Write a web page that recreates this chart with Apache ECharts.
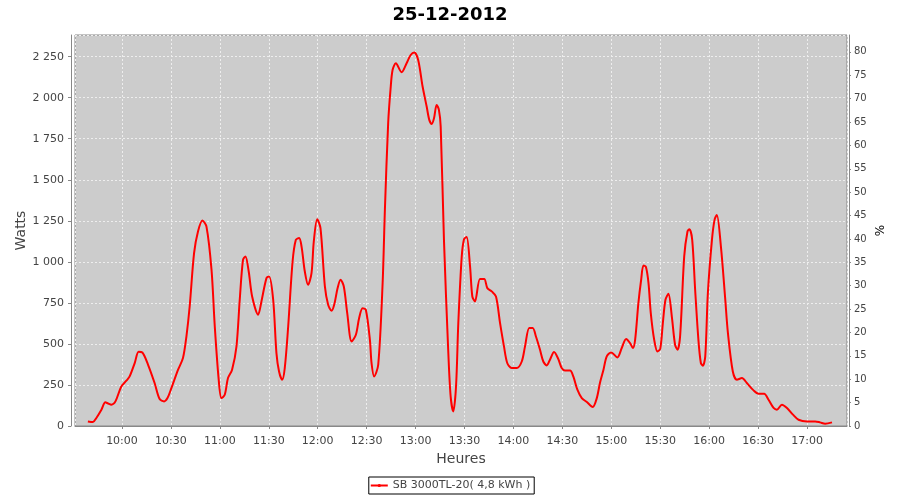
<!DOCTYPE html>
<html>
<head>
<meta charset="utf-8">
<script src="https://cdn.jsdelivr.net/npm/echarts@6/dist/echarts.min.js"></script>
<style>html,body{margin:0;padding:0;background:#fff}#c{width:900px;height:500px}</style>
</head>
<body>
<div id="c"></div>
<script>
// Time of each reading, in minutes after midnight (25-12-2012)
const minutes = [
579.1,582.2,584.3,587.4,589.8,591.5,593.5,596,599.6,602.7,604.7,607.8,610.2,612.5,616,620,623.1,625.8,627.9,630.3,
634.4,637.4,639.5,641.5,644.2,646.6,649.3,651.8,654.9,656.9,659.3,661,663,665,667.5,670.2,672.2,674.2,675.7,677.7,
679.8,683.5,685.5,688.6,690.2,692.7,694.7,696.3,698.2,699.8,701.9,704.6,706.6,708.6,710.1,712.1,714.1,716.2,717.6,719.7,
721.7,724.4,726.4,728.5,730.1,732.2,734,736,738.1,740.8,743.4,745.4,747.5,749.5,752,753,754.6,757.1,759.8,761.2,
763.2,764.7,765.9,767.9,771.4,774.5,777,779.2,781.6,784.3,786.8,788.4,789.9,791.3,792.9,794.3,795.4,797.4,800,801.5,
803.1,804.8,806.2,808.3,809.7,811.3,813.4,814.8,816.4,819.5,822.1,824,826.7,829.3,831.8,834.2,836.2,838.9,842,845.1,
847.1,849.7,851.8,853.8,856.3,858.3,860.4,862.4,864.9,867.5,869.6,871.6,874.7,876.7,879.2,881.9,885,888.6,891.1,893.1,
895.2,897.2,899.9,903.7,906.4,909.1,911.5,913.2,914.6,916.6,918.3,919.7,921.2,922.8,924.2,926.3,928.3,930,931.6,933.2,
935,937.1,939.1,940.6,942.2,944.7,946.7,947.9,949.6,951.4,953.4,954.9,956.1,957.6,959.2,961.7,963.3,964.7,967.2,969.8,
971.5,974.5,977,980.1,983.1,987.2,990.3,993.7,996.4,999.5,1001.5,1004.6,1007.7,1011.4,1014.8,1020,1025,1028,1031.1,1035.3
];
// Output power of SB 3000TL-20, watts
const watts = [
28,24,49,99,144,137,130,150,241,276,302,383,452,448,373,262,164,150,170,231,
343,414,545,728,1053,1185,1252,1215,951,606,282,170,190,292,343,485,769,1012,1033,941,
789,678,759,901,911,769,444,332,282,353,606,1002,1134,1145,1093,941,860,931,1124,1260,
1205,850,738,702,738,840,891,850,688,515,556,658,718,708,525,384,302,373,871,1320,
1845,2058,2169,2210,2155,2210,2260,2275,2230,2068,1946,1865,1840,1875,1956,1926,1824,1134,464,180,
89,241,627,1033,1138,1151,972,789,759,895,895,840,820,789,627,485,384,353,353,393,
485,597,597,545,464,393,369,404,451,408,353,338,338,302,221,170,146,116,170,265,
343,424,448,418,475,530,505,475,525,749,891,978,970,871,688,525,454,470,627,769,
805,667,495,464,550,1033,1185,1199,1134,830,525,384,367,424,810,1134,1256,1286,1093,779,
566,332,282,292,262,217,197,197,160,110,99,130,110,69,38,28,28,22,14,22
];
const titleText = '25-12-2012';
const seriesName = 'SB 3000TL-20( 4,8 kWh )';
const xName = 'Heures', yName = 'Watts', y2Name = '%';
const xMinMinutes = 571.2, xMaxMinutes = 1044.5;   // visible time range
const wattMax = 2382, pctMax = 83.6;
const wattStep = 250, pctStep = 5, timeSplits = 14;

const day0 = Date.UTC(2012, 11, 25, 0, 0, 0);
const toTs = m => day0 + m * 60000;
const data = minutes.map((m, i) => [toTs(m), watts[i]]);
const pad = n => (n < 10 ? '0' : '') + n;
const fmtW = v => v >= 1000 ? Math.floor(v / 1000) + ' ' + String(v % 1000).padStart(3, '0') : String(v);

const FONT = 'DejaVu Sans';
const chart = echarts.init(document.getElementById('c'), null, {renderer: 'canvas'});
chart.setOption({
  useUTC: true,
  animation: false,
  backgroundColor: '#ffffff',
  textStyle: {fontFamily: FONT},
  title: {
    text: titleText, left: 'center', top: 1,
    textStyle: {fontFamily: FONT, fontSize: 18, fontWeight: 'bold', color: '#000'}
  },
  legend: {
    data: [seriesName], left: 'center', top: 477,
    borderColor: '#000', borderWidth: 1, padding: [3, 4, 3, 1],
    itemWidth: 17, itemHeight: 4, itemGap: 4, backgroundColor: '#fff',
    textStyle: {fontFamily: FONT, fontSize: 11, color: '#444'}
  },
  grid: {
    left: 75, right: 53, top: 35, bottom: 74, containLabel: false,
    show: true, backgroundColor: '#cccccc', borderColor: '#888888', borderWidth: 1
  },
  xAxis: {
    type: 'time', min: toTs(xMinMinutes), max: toTs(xMaxMinutes),
    splitNumber: timeSplits,
    offset: 4,
    name: xName, nameLocation: 'middle', nameGap: 22, nameMoveOverlap: false,
    nameTextStyle: {fontFamily: FONT, fontSize: 14, color: '#444'},
    axisLine: {show: true, lineStyle: {color: '#888888', width: 1}},
    axisTick: {show: true, length: 3, lineStyle: {color: '#888888'}},
    axisLabel: {
      fontFamily: FONT, fontSize: 11, color: '#444', margin: 6,
      showMinLabel: false, showMaxLabel: false,
      formatter: v => { const d = new Date(v); return d.getUTCHours() + ':' + pad(d.getUTCMinutes()); }
    },
    splitLine: {show: true, lineStyle: {color: '#eeeeee', type: [2, 2], width: 1}}
  },
  yAxis: [{
    type: 'value', min: 0, max: wattMax, interval: wattStep, position: 'left', offset: 4,
    name: yName, nameLocation: 'middle', nameGap: 43, nameRotate: 90, nameMoveOverlap: false,
    nameTextStyle: {fontFamily: FONT, fontSize: 14, color: '#444'},
    axisLine: {show: true, lineStyle: {color: '#888888', width: 1}},
    axisTick: {show: true, length: 3, lineStyle: {color: '#888888'}},
    axisLabel: {fontFamily: FONT, fontSize: 11, color: '#444', margin: 7, showMaxLabel: false, formatter: fmtW},
    splitLine: {show: true, lineStyle: {color: '#eeeeee', type: [2, 2], width: 1}}
  }, {
    type: 'value', min: 0, max: pctMax, interval: pctStep, position: 'right', offset: 2,
    name: y2Name, nameLocation: 'middle', nameGap: 26, nameRotate: 90, nameMoveOverlap: false,
    nameTextStyle: {fontFamily: FONT, fontSize: 12, color: '#000'},
    axisLine: {show: true, lineStyle: {color: '#888888', width: 1}},
    axisTick: {show: true, length: 2, lineStyle: {color: '#888888'}},
    axisLabel: {fontFamily: FONT, fontSize: 10, color: '#444', margin: 5, showMaxLabel: false},
    splitLine: {show: false}
  }],
  series: [{
    name: seriesName, type: 'line', yAxisIndex: 0, data: data,
    showSymbol: false, symbol: 'circle', symbolSize: 3, smooth: 0.3,
    lineStyle: {color: '#ff0000', width: 2}, itemStyle: {color: '#ff0000'}
  }, {
    name: '%', type: 'line', yAxisIndex: 1, data: [], silent: true
  }]
});
</script>
</body>
</html>
